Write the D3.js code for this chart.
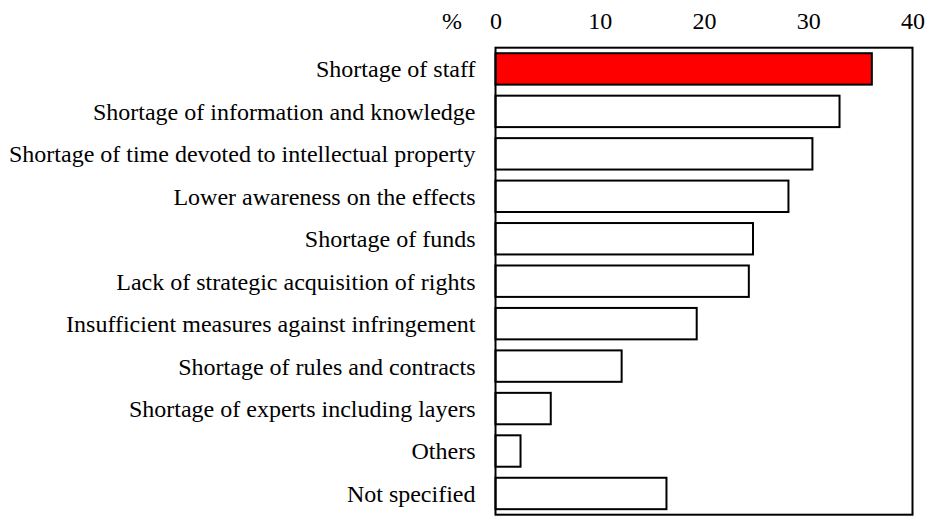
<!DOCTYPE html>
<html>
<head>
<meta charset="utf-8">
<script src="https://cdn.jsdelivr.net/npm/d3@7"></script>
<style>
  body { margin: 0; background: #fff; }
  svg { display: block; }
  text { font-family: "Liberation Serif", "Times New Roman", serif; }
</style>
</head>
<body>
<svg id="chart"></svg>
<script>
//categories, top to bottom
const categories = [
  "Shortage of staff",
  "Shortage of information and knowledge",
  "Shortage of time devoted to intellectual property",
  "Lower awareness on the effects",
  "Shortage of funds",
  "Lack of strategic acquisition of rights",
  "Insufficient measures against infringement",
  "Shortage of rules and contracts",
  "Shortage of experts including layers",
  "Others",
  "Not specified"
];
//share of respondents (%)
const values = [36.1, 33.0, 30.4, 28.1, 24.7, 24.3, 19.3, 12.1, 5.3, 2.4, 16.4];
const highlight = ["Shortage of staff"];
const tickValues = [0, 10, 20, 30, 40];

const width = 929, height = 516;
const margin = { top: 47.7, right: 16.5, bottom: 1.3, left: 495.5 };
const fontSize = 24;
const serif = "Liberation Serif, Times New Roman, serif";

const svg = d3.select("#chart")
  .attr("width", width)
  .attr("height", height)
  .attr("viewBox", [0, 0, width, height]);

const x = d3.scaleLinear()
  .domain([0, 40])
  .range([margin.left, width - margin.right]);

const y = d3.scaleBand()
  .domain(categories)
  .range([margin.top, height - margin.bottom])
  .paddingInner(0.26)
  .paddingOuter(0.13);

//bars
svg.append("g")
  .selectAll("rect")
  .data(categories)
  .join("rect")
  .attr("x", x(0))
  .attr("y", d => y(d))
  .attr("width", (d, i) => x(values[i]) - x(0))
  .attr("height", y.bandwidth())
  .attr("fill", d => highlight.includes(d) ? "#ff0000" : "#fff")
  .attr("stroke", "#000")
  .attr("stroke-width", 2);

//frame
svg.append("rect")
  .attr("x", x(0))
  .attr("y", margin.top)
  .attr("width", x(40) - x(0))
  .attr("height", height - margin.bottom - margin.top)
  .attr("fill", "none")
  .attr("stroke", "#000")
  .attr("stroke-width", 2);

//top axis, labels only
const xAxis = svg.append("g")
  .attr("transform", `translate(0,${margin.top - 18.7})`)
  .call(d3.axisTop(x).tickValues(tickValues).tickSize(0).tickPadding(0));
xAxis.attr("font-family", serif).attr("font-size", fontSize);
xAxis.select(".domain").remove();
xAxis.selectAll("text")
  .attr("fill", "#000")
  .attr("dy", "0");

svg.append("text")
  .attr("x", 452)
  .attr("y", margin.top - 18.7)
  .attr("text-anchor", "middle")
  .attr("font-family", serif)
  .attr("font-size", fontSize)
  .text("%");

//category labels
svg.append("g")
  .attr("font-family", serif)
  .attr("font-size", fontSize)
  .selectAll("text")
  .data(categories)
  .join("text")
  .attr("x", x(0) - 20)
  .attr("y", d => y(d) + y.bandwidth() / 2)
  .attr("dy", "0.35em")
  .attr("text-anchor", "end")
  .attr("fill", "#000")
  .text(d => d);
</script>
</body>
</html>
